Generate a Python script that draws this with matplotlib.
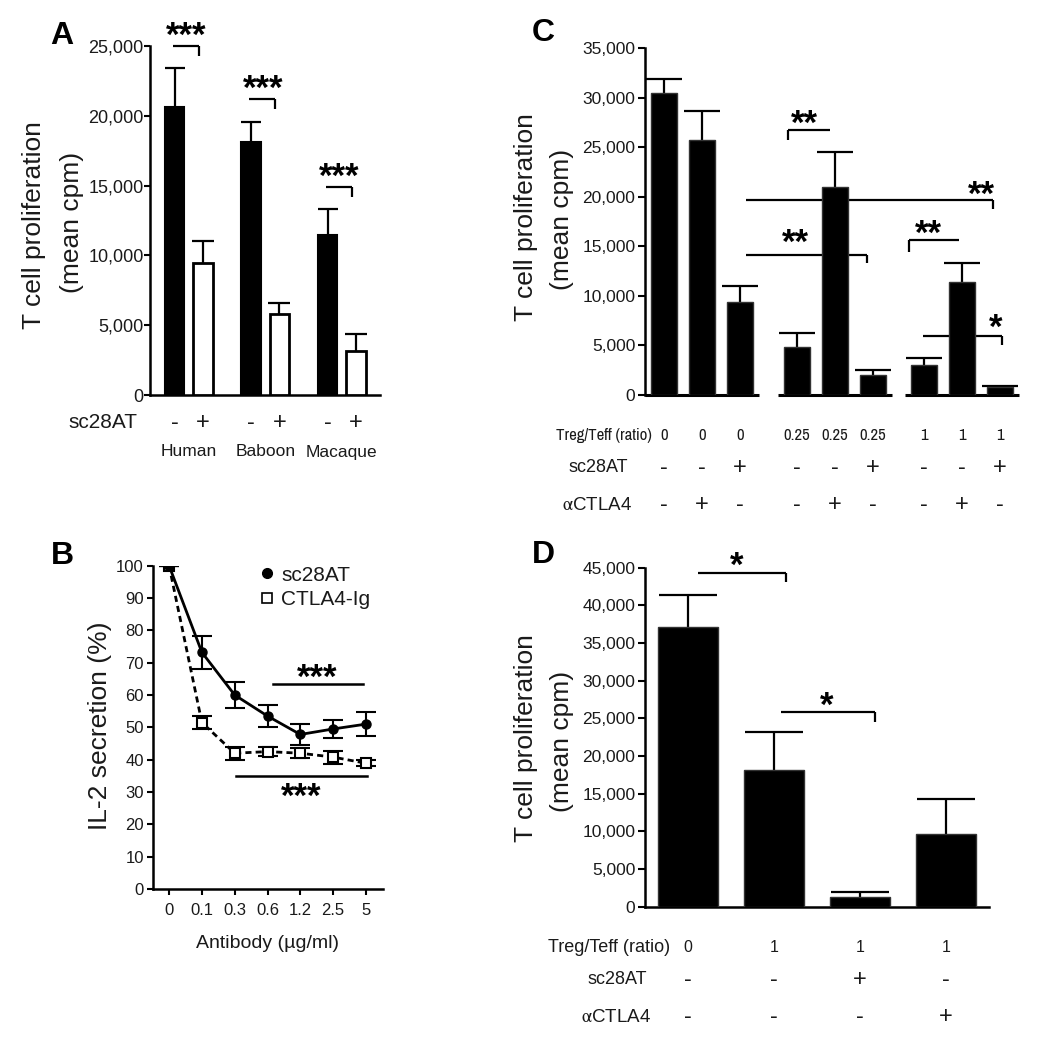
import matplotlib
matplotlib.use('Agg')
import matplotlib.pyplot as plt
from matplotlib import font_manager
from matplotlib.ticker import FuncFormatter
from matplotlib.lines import Line2D
import numpy as np

# ---------------- data ----------------
# Panel A
a_species = ['Human', 'Baboon', 'Macaque']
a_minus = [20600, 18100, 11450]
a_minus_err = [2800, 1450, 1850]
a_plus = [9450, 5800, 3150]
a_plus_err = [1600, 800, 1200]
a_sig_y = [25000, 21200, 14900]
a_sig_label = ['***', '***', '***']

# Panel B
b_doses = ['0', '0.1', '0.3', '0.6', '1.2', '2.5', '5']
b_sc28at = [100, 73.2, 60.0, 53.5, 47.8, 49.5, 51.0]
b_sc28at_err = [0, 5.0, 4.0, 3.3, 3.2, 2.8, 3.6]
b_ctla4ig = [100, 51.5, 42.0, 42.5, 42.0, 40.8, 38.9]
b_ctla4ig_err = [0, 2.0, 2.0, 1.5, 1.5, 2.0, 1.0]

# Panel C
c_ratio = ['0', '0', '0', '0.25', '0.25', '0.25', '1', '1', '1']
c_sc28at = ['-', '-', '+', '-', '-', '+', '-', '-', '+']
c_actla4 = ['-', '+', '-', '-', '+', '-', '-', '+', '-']
c_values = [30450, 25700, 9400, 4870, 20950, 2020, 2990, 11430, 780]
c_err = [1450, 2950, 1600, 1350, 3600, 500, 700, 1900, 100]
# brackets: x1, x2, y, drop end y, drop side, label, label x, label y
c_brackets = [
    (3.26, 4.37, 26800, 25730, 'left', '**', 3.71, 27950),
    (2.16, 8.66, 19670, 18770, 'right', '**', 8.37, 20770),
    (2.16, 5.34, 14125, 13320, 'right', '**', 3.45, 15950),
    (6.45, 7.76, 15640, 14430, 'left', '**', 6.97, 16850),
    (6.82, 8.90, 5985, 5045, 'right', '*', 8.74, 7370),
]

# Panel D
d_ratio = ['0', '1', '1', '1']
d_sc28at = ['-', '-', '+', '-']
d_actla4 = ['-', '-', '-', '+']
d_values = [37100, 18150, 1250, 9650]
d_err = [4300, 5000, 750, 4600]
d_brackets = [
    (0.12, 1.14, 44340, 43060, 'right', '*', 0.57, 46020),
    (1.08, 2.18, 25890, 24560, 'right', '*', 1.61, 27440),
]

# ---------------- setup ----------------
names = {f.name for f in font_manager.fontManager.ttflist}
SANS = 'Liberation Sans' if 'Liberation Sans' in names else 'DejaVu Sans'
NARROW = SANS
for cand in ['Liberation Sans Narrow', 'Archivo Narrow', 'Roboto Condensed', 'PT Sans Narrow']:
    if cand in names:
        NARROW = cand
        break
plt.rcParams['font.family'] = [SANS, 'DejaVu Sans']
plt.rcParams['mathtext.fontset'] = 'stix'
TXT = '#1a1a1a'
STAR_SIZE = 25
STAR_F = 0.45

W, H = 1041, 1050
fig = plt.figure(figsize=(W / 100, H / 100), dpi=100)


def ax_px(l, r, t, b):
    return fig.add_axes([l / W, 1 - b / H, (r - l) / W, (b - t) / H])


def ftext(x, y, s, **kw):
    kw.setdefault('color', TXT)
    return fig.text(x / W, 1 - y / H, s, **kw)


def star(ax, x, y, s, size=STAR_SIZE):
    ax.annotate(s, (x, y), xytext=(0, -STAR_F * size), textcoords='offset points',
                ha='center', va='baseline', fontsize=size, fontweight='bold',
                color='black', annotation_clip=False)


def bracket(ax, x1, x2, y, ydrop, side, lw=1.6):
    ax.plot([x1, x2], [y, y], color='black', lw=lw, clip_on=False, solid_capstyle='butt')
    xd = x2 if side == 'right' else x1
    ax.plot([xd, xd], [y, ydrop], color='black', lw=lw, clip_on=False, solid_capstyle='butt')


def up_err(ax, x, y, err, capsize):
    eb = ax.errorbar(x, y, yerr=[np.zeros(len(err)), err], fmt='none', ecolor='black',
                     elinewidth=1.6, capsize=capsize, capthick=1.6, zorder=2)
    eb[1][0].set_visible(False)


def style_axes(ax, lw=1.8, ticklen=4, labelsize=13, pad=1.5):
    for s in ['top', 'right']:
        ax.spines[s].set_visible(False)
    for s in ['left', 'bottom']:
        ax.spines[s].set_linewidth(lw)
    ax.tick_params(axis='both', direction='out', length=ticklen, width=1.5,
                   labelsize=labelsize, pad=pad, colors='black', labelcolor=TXT)


fmt = FuncFormatter(lambda v, p: f'{int(round(v)):,}')

# ---------------- Panel A ----------------
axA = ax_px(150, 380, 46, 395)
g = np.arange(len(a_species))
off, bw = 0.186, 0.26
axA.bar(g - off, a_minus, width=bw, color='black', edgecolor='black', lw=1.5, zorder=3)
axA.bar(g + off, a_plus, width=bw, color='white', edgecolor='black', lw=2, zorder=3)
up_err(axA, g - off, a_minus, a_minus_err, 7)
up_err(axA, g + off, a_plus, a_plus_err, 8)
axA.set_xlim(-0.507, 2.5)
axA.set_ylim(0, 25000)
axA.set_yticks(np.arange(0, 25001, 5000))
axA.yaxis.set_major_formatter(fmt)
axA.set_xticks([])
style_axes(axA, labelsize=13, ticklen=4, pad=0.5)
for i in range(3):
    bracket(axA, g[i] - 0.21, g[i] + 0.13, a_sig_y[i], a_sig_y[i] - 720, 'right')
    star(axA, g[i] - 0.03, a_sig_y[i] + 1100, a_sig_label[i])
for i in range(3):
    for xx, s in [(g[i] - off, '-'), (g[i] + off, '+')]:
        px = 150 + (xx + 0.507) * 76.5
        ftext(px, 423, s, ha='center', va='center', fontsize=17)
    ftext(150 + (g[i] + 0.507) * 76.5, 452, a_species[i], ha='center', va='center',
          fontsize=12.5)
ftext(137, 423, 'sc28AT', ha='right', va='center', fontsize=15)
ftext(34, 225, 'T cell proliferation', rotation=90, ha='center', va='center', fontsize=19)
ftext(72, 222, '(mean cpm)', rotation=90, ha='center', va='center', fontsize=19)
ftext(62, 36, 'A', ha='center', va='center', fontsize=23, fontweight='bold', color='black')

# ---------------- Panel B ----------------
axB = ax_px(153, 383, 565.7, 889)
xb = np.arange(len(b_doses))
axB.errorbar(xb, b_ctla4ig, yerr=b_ctla4ig_err, fmt='s', ls=(0, (2.2, 1.5)),
             color='black', lw=2, ms=7, mfc='white', mec='black', mew=1.5,
             elinewidth=1.5, capsize=7, capthick=1.5, zorder=3)
axB.errorbar(xb, b_sc28at, yerr=b_sc28at_err, fmt='-o', color='black', lw=2,
             ms=6.5, elinewidth=1.5, capsize=7, capthick=1.5, zorder=4)
axB.set_xlim(-0.49, 6.52)
axB.set_ylim(0, 100)
axB.set_yticks(np.arange(0, 101, 10))
axB.set_xticks(xb)
axB.set_xticklabels(b_doses)
style_axes(axB, labelsize=12, ticklen=4, pad=2.5)
axB.tick_params(axis='x', pad=6)
axB.set_xlabel('Antibody (µg/ml)', fontsize=14, color=TXT, labelpad=12)
bracket_b = [(3.16, 5.92, 63.5, '***', 4.51, 67.2), (2.04, 6.04, 34.9, '***', 4.02, 30.1)]
for x1, x2, y, s, lx, ly in bracket_b:
    axB.plot([x1, x2], [y, y], color='black', lw=1.8, clip_on=False)
    star(axB, lx, ly, s)
hB = [Line2D([], [], ls='none', marker='o', color='black', ms=7),
      Line2D([], [], ls='none', marker='s', mfc='white', mec='black', mew=1.2, ms=7.5)]
leg = axB.legend(hB, ['sc28AT', 'CTLA4-Ig'], loc='upper left',
                 bbox_to_anchor=((245 - 153) / 230, 1.045), frameon=False,
                 fontsize=15, handlelength=0.7, handletextpad=0.35,
                 labelspacing=0.25, borderpad=0.2)
for t in leg.get_texts():
    t.set_color(TXT)
ftext(100, 726, 'IL-2 secretion (%)', rotation=90, ha='center', va='center', fontsize=19)
ftext(62, 556, 'B', ha='center', va='center', fontsize=23, fontweight='bold', color='black')

# ---------------- Panel C ----------------
axC = ax_px(645, 1019, 48.3, 395)
c_pos = np.arange(9) + np.repeat([0, 0.5, 0.85], 3)
axC.bar(c_pos, c_values, width=0.7, color='black', edgecolor='#333333', lw=1, zorder=3)
up_err(axC, c_pos, c_values, c_err, 13)
axC.set_xlim(c_pos[0] - 0.5, c_pos[-1] + 0.5)
axC.set_ylim(0, 35000)
axC.set_yticks(np.arange(0, 35001, 5000))
axC.yaxis.set_major_formatter(fmt)
axC.set_xticks([])
style_axes(axC, labelsize=12.5, ticklen=5, pad=2)
axC.spines['bottom'].set_visible(False)
for k in range(3):
    seg = c_pos[3 * k:3 * k + 3]
    axC.plot([seg[0] - 0.5, seg[-1] + 0.5], [0, 0], color='black', lw=2.2,
             clip_on=False, solid_capstyle='butt')
for x1, x2, y, yd, side, s, lx, ly in c_brackets:
    bracket(axC, x1, x2, y, yd, side)
    star(axC, lx, ly, s)


def px_c(x):
    return 645 + (x - (c_pos[0] - 0.5)) * 374 / (c_pos[-1] - c_pos[0] + 1)


for i in range(9):
    xp = px_c(c_pos[i])
    ftext(xp, 435, c_ratio[i], ha='center', va='center', fontsize=12, family=NARROW)
    ftext(xp, 468, c_sc28at[i], ha='center', va='center', fontsize=17)
    ftext(xp, 505, c_actla4[i], ha='center', va='center', fontsize=17)
ftext(652, 435, 'Treg/Teff (ratio)', ha='right', va='center', fontsize=12, family=NARROW)
ftext(628, 468, 'sc28AT', ha='right', va='center', fontsize=13)
ftext(632, 505, r'$\mathrm{\alpha}$CTLA4', ha='right', va='center', fontsize=13.5)
ftext(526, 217, 'T cell proliferation', rotation=90, ha='center', va='center', fontsize=19)
ftext(562, 219, '(mean cpm)', rotation=90, ha='center', va='center', fontsize=19)
ftext(543, 33, 'C', ha='center', va='center', fontsize=23, fontweight='bold', color='black')

# ---------------- Panel D ----------------
axD = ax_px(645, 989, 567.7, 906.7)
xd = np.arange(len(d_values))
axD.bar(xd, d_values, width=0.69, color='black', edgecolor='#333333', lw=1, zorder=3)
up_err(axD, xd, d_values, d_err, 21)
axD.set_xlim(-0.5, 3.5)
axD.set_ylim(0, 45000)
axD.set_yticks(np.arange(0, 45001, 5000))
axD.yaxis.set_major_formatter(fmt)
axD.set_xticks([])
style_axes(axD, labelsize=12.5, ticklen=5, pad=2)
axD.tick_params(axis='x', length=0)
for x1, x2, y, yd, side, s, lx, ly in d_brackets:
    bracket(axD, x1, x2, y, yd, side)
    star(axD, lx, ly, s)
for i in range(4):
    xp = 688 + i * 86
    ftext(xp, 947, d_ratio[i], ha='center', va='center', fontsize=11.5)
    ftext(xp, 980, d_sc28at[i], ha='center', va='center', fontsize=17)
    ftext(xp, 1017, d_actla4[i], ha='center', va='center', fontsize=17)
ftext(670, 947, 'Treg/Teff (ratio)', ha='right', va='center', fontsize=13)
ftext(647, 980, 'sc28AT', ha='right', va='center', fontsize=13)
ftext(651, 1017, r'$\mathrm{\alpha}$CTLA4', ha='right', va='center', fontsize=13.5)
ftext(526, 738, 'T cell proliferation', rotation=90, ha='center', va='center', fontsize=19)
ftext(562, 741, '(mean cpm)', rotation=90, ha='center', va='center', fontsize=19)
ftext(543, 555, 'D', ha='center', va='center', fontsize=23, fontweight='bold', color='black')

fig.savefig('out.png', dpi=100, facecolor='white')
